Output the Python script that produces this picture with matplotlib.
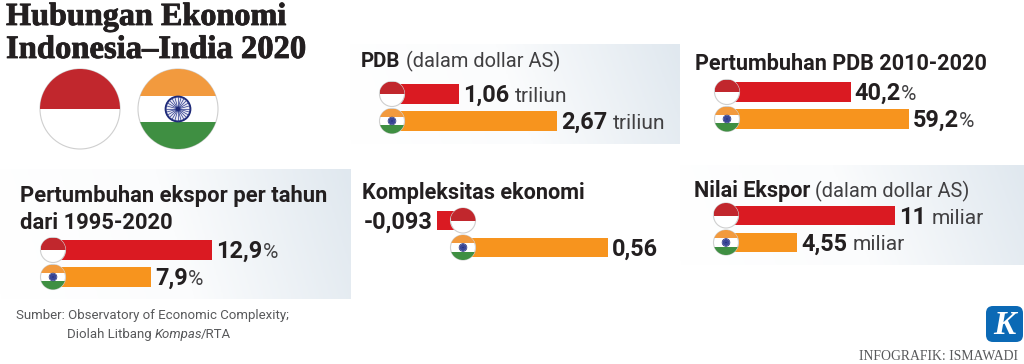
import numpy as np
import matplotlib
matplotlib.use('Agg')
from matplotlib import pyplot as plt
from matplotlib import patheffects
from matplotlib.colors import LinearSegmentedColormap
from matplotlib.patches import Circle, Rectangle, FancyBboxPatch

W, H = 1024, 364

title_lines = ['Hubungan Ekonomi', 'Indonesia\u2013India 2020']
source_lines = ['Sumber: Observatory of Economic Complexity;', 'Diolah Litbang ', 'Kompas', '/RTA']
credit = 'INFOGRAFIK: ISMAWADI'

# values: Indonesia, India
pdb_values = [1.06, 2.67]
pdb_labels = [('1,06', ' triliun'), ('2,67', ' triliun')]
growth_values = [40.2, 59.2]
growth_labels = [('40,2', '%'), ('59,2', '%')]
export_growth_values = [12.9, 7.9]
export_growth_labels = [('12,9', '%'), ('7,9', '%')]
complexity_values = [-0.093, 0.56]
complexity_labels = [('-0,093', ''), ('0,56', '')]
export_values = [11, 4.55]
export_labels = [('11', ' miliar'), ('4,55', ' miliar')]

RED = '#da1a22'
ORANGE = '#f7941e'
DARK = '#231f20'
THIN = '#414042'
GREY = '#58595b'
FONT = 'Roboto'

fig = plt.figure(figsize=(W / 100, H / 100), dpi=100)
bg = fig.add_axes([0, 0, 1, 1], zorder=0)
bg.set_xlim(0, W)
bg.set_ylim(H, 0)
bg.set_axis_off()
top = fig.add_axes([0, 0, 1, 1], zorder=5)
top.set_xlim(0, W)
top.set_ylim(H, 0)
top.set_axis_off()
top.patch.set_alpha(0)

fade = LinearSegmentedColormap.from_list('fade', ['#ffffff', '#fbfcfd', '#e0e8ef'])


def panel(x0, x1, y0, y1):
    gx, gy = np.meshgrid(np.linspace(0, 1, 200), np.linspace(0, 1, 60))
    grad = np.clip(gx * 0.9 + (1 - gy) * 0.1, 0, 1)
    bg.imshow(grad, cmap=fade, vmin=0, vmax=1, extent=[x0, x1, y1, y0], aspect='auto')
    bg.set_xlim(0, W)
    bg.set_ylim(H, 0)


def runs(x, y, parts):
    # parts are drawn one after another on a common baseline
    r = fig.canvas.get_renderer()
    for txt, weight, color, size, style in parts:
        if not txt:
            continue
        t = top.text(x, y, txt.strip(), fontsize=size * 0.72, fontweight=weight, color=color,
                     family=FONT, fontstyle=style, va='baseline', ha='left')
        bb = t.get_window_extent(r)
        lead = len(txt) - len(txt.lstrip())
        if lead:
            t.set_x(x + lead * size * 0.25)
            x += lead * size * 0.25
        x += bb.width
        x += (len(txt) - len(txt.rstrip())) * size * 0.25
    return x


def flag_id(cx, cy, rad):
    clip = Circle((cx, cy), rad, transform=top.transData)
    top.add_patch(Circle((cx, cy), rad, fc='white', ec='#cfcfcf', lw=0.8, zorder=6))
    p = top.add_patch(Rectangle((cx - rad, cy - rad), 2 * rad, rad, fc='#c1272d', ec='none', zorder=7))
    p.set_clip_path(clip)


def flag_in(cx, cy, rad):
    clip = Circle((cx, cy), rad, transform=top.transData)
    top.add_patch(Circle((cx, cy), rad, fc='white', ec='#cfcfcf', lw=0.8, zorder=6))
    third = rad * 0.66
    p = top.add_patch(Rectangle((cx - rad, cy - rad), 2 * rad, rad - third * 0.5, fc='#f29a3e', ec='none', zorder=7))
    p.set_clip_path(clip)
    p = top.add_patch(Rectangle((cx - rad, cy + third * 0.5), 2 * rad, rad, fc='#3f8f42', ec='none', zorder=7))
    p.set_clip_path(clip)
    wheel = rad * 0.31
    top.add_patch(Circle((cx, cy), wheel, fc='#e8e8f4', ec='#1f2a78', lw=max(0.5, rad * 0.035), zorder=8))
    if rad > 20:
        for a in np.arange(0, np.pi, np.pi / 12):
            top.plot([cx - wheel * np.cos(a), cx + wheel * np.cos(a)],
                     [cy - wheel * np.sin(a), cy + wheel * np.sin(a)],
                     color='#2b3a8c', lw=0.5, zorder=8)
    else:
        top.add_patch(Circle((cx, cy), wheel * 0.9, fc='#3a4796', ec='none', zorder=8))
    top.add_patch(Circle((cx, cy), wheel * 0.18, fc='#1f2a78', ec='none', zorder=9))


def bars(zero, px_per_unit, y_red, y_orange, flag_x, values, labels):
    spacing = y_orange - y_red
    x_left = zero - 60
    x_right = W if zero + 400 > W else zero + 400
    y_top = y_red - spacing / 2
    y_bot = y_orange + spacing / 2
    ax = fig.add_axes([x_left / W, 1 - y_bot / H, (x_right - x_left) / W, (y_bot - y_top) / H], zorder=2)
    ax.barh([0, 1], values, height=19.5 / spacing, color=[RED, ORANGE])
    ax.set_xlim((x_left - zero) / px_per_unit, (x_right - zero) / px_per_unit)
    ax.set_ylim(1.5, -0.5)
    ax.set_axis_off()
    flag_id(flag_x, y_red, 12.5)
    flag_in(flag_x, y_orange, 12.5)
    for v, lab, y in zip(values, labels, [y_red, y_orange]):
        base = y + 8
        if v < 0:
            top.text(zero + v * px_per_unit - 5, base, lab[0], fontsize=23.5 * 0.72, fontweight='bold',
                     color=DARK, family=FONT, ha='right', va='baseline')
        else:
            runs(zero + v * px_per_unit + 4, base,
                 [(lab[0], 'bold', DARK, 23.5, 'normal'), (lab[1], 'normal', THIN, 21, 'normal')])


panel(350, 680, 44, 144)
panel(0, 351, 169, 299)
panel(680, 1024, 165, 265)

# title
heavy = [patheffects.withStroke(linewidth=0.6, foreground=DARK)]
top.text(6, 25, title_lines[0], fontsize=23.2, family='Liberation Serif', fontweight='bold', color=DARK,
         va='baseline', path_effects=heavy)
top.text(6, 58, title_lines[1], fontsize=23.5, family='Liberation Serif', fontweight='bold', color=DARK,
         va='baseline', path_effects=heavy)

# large flags
flag_id(80, 109, 40)
flag_in(178, 109, 40)

# headings
runs(361, 67, [('PDB', 'bold', DARK, 20.5, 'normal'), (' (dalam dollar AS)', 'normal', THIN, 20, 'normal')])
runs(695, 70, [('Pertumbuhan PDB 2010-2020', 'bold', DARK, 21.7, 'normal')])
runs(20, 202, [('Pertumbuhan ekspor per tahun', 'bold', DARK, 22, 'normal')])
runs(20, 229, [('dari 1995-2020', 'bold', DARK, 22, 'normal')])
runs(362, 199, [('Kompleksitas ekonomi', 'bold', DARK, 21.7, 'normal')])
runs(694, 197, [('Nilai Ekspor', 'bold', DARK, 21.7, 'normal'), (' (dalam dollar AS)', 'normal', THIN, 20, 'normal')])

bars(394.5, 60.9, 94, 121, 392, pdb_values, pdb_labels)
bars(728, 3.05, 92, 119, 727, growth_values, growth_labels)
bars(55, 12.2, 250, 277, 53, export_growth_values, export_growth_labels)
bars(461.6, 262, 220.5, 247.5, 463, complexity_values, complexity_labels)
bars(728, 15.2, 215.5, 242.5, 726, export_values, export_labels)

# source
runs(16, 319, [(source_lines[0], 'normal', GREY, 13.3, 'normal')])
x = runs(67, 338, [(source_lines[1], 'normal', GREY, 13.3, 'normal'),
                   (source_lines[2], 'normal', GREY, 13.3, 'italic')])
runs(x - 2, 338, [(source_lines[3], 'normal', GREY, 13.3, 'normal')])

# logo and credit
top.add_patch(FancyBboxPatch((990, 310), 29, 28, boxstyle='round,pad=4,rounding_size=7', fc='#0b69b5', ec='none'))
top.text(1004.5, 334, 'K', fontsize=24, family='Liberation Serif', fontstyle='italic', fontweight='bold',
         color='white', ha='center', va='baseline')
top.text(1018, 360, credit, fontsize=13.7 * 0.72, family='Liberation Serif', color=GREY, ha='right', va='baseline')

fig.savefig('out.png', dpi=100)
